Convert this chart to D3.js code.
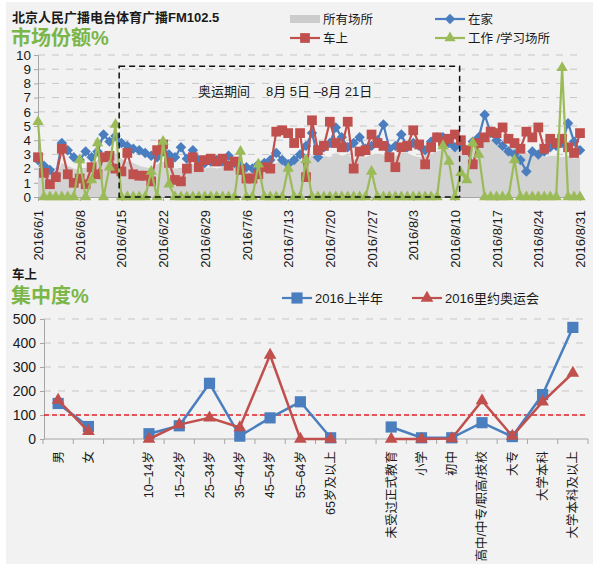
<!DOCTYPE html>
<html>
<head>
<meta charset="utf-8">
<script src="https://cdn.jsdelivr.net/npm/d3@7"></script>
<style>
body{margin:0;background:#fff;}
text{font-family:"Liberation Sans","Noto Sans CJK SC",sans-serif;fill:#1a1a1a;}
</style>
</head>
<body>
<svg id="chart" width="600" height="567"></svg>
<script>
// ---- market share, daily 2016/6/1 - 2016/8/31 ----
var startDay = "2016-06-01", endDay = "2016-08-31";
var allPlaces = [2.3,1.9,1.6,1.5,2.4,2.2,2.0,1.9,2.0,2.2,
  2.6,3.0,3.2,3.1,2.7,2.5,2.4,2.2,2.1,2.0,
  2.3,2.5,2.3,2.0,2.0,2.1,2.3,2.1,2.0,2.1,
  2.0,2.1,2.0,2.0,2.0,1.8,1.7,1.8,1.9,2.0,
  2.4,2.6,2.5,2.6,2.6,2.4,3.0,2.6,2.9,2.8,
  3.1,2.9,3.0,2.6,2.8,2.8,3.0,3.0,3.0,2.7,
  2.9,3.1,3.1,2.9,2.8,2.9,3.0,3.2,3.4,3.4,
  3.3,3.3,3.2,3.4,3.5,4.0,4.0,3.8,3.9,3.6,
  3.5,3.3,3.1,3.0,3.2,2.8,2.9,2.9,2.8,2.9,
  2.7,2.8];
var atHome = [2.6,2.2,1.9,1.5,3.8,3.3,2.8,2.6,3.2,2.8,
  3.2,4.4,3.9,4.3,3.8,3.6,3.4,3.3,3.1,2.9,
  2.8,3.2,3.0,2.8,3.5,2.7,3.3,2.6,2.4,2.5,
  2.6,2.5,2.9,2.4,2.2,2.1,2.0,2.3,2.4,2.6,
  3.1,2.6,2.3,2.6,3.0,3.6,4.5,2.8,3.5,3.8,
  4.9,4.2,3.5,3.8,4.2,3.4,3.6,4.0,5.1,3.4,
  3.6,4.4,3.5,3.8,3.6,3.3,3.9,4.2,4.2,3.8,
  3.5,3.6,3.3,3.9,4.2,5.8,4.5,4.0,3.6,3.2,
  3.0,2.6,1.8,3.2,3.0,3.2,3.5,3.6,3.8,5.2,
  3.9,3.3];
var inCar = [2.8,1.7,0.9,1.4,3.4,1.6,1.0,1.3,0.9,2.1,
  1.6,2.8,2.9,2.0,1.8,3.1,1.6,1.5,1.5,1.1,
  3.3,3.7,2.4,1.2,1.1,2.0,2.8,2.1,2.6,2.7,
  2.5,2.7,2.2,2.5,1.9,1.3,1.3,1.6,2.1,2.0,
  4.6,4.7,4.5,3.8,4.5,1.4,5.4,3.3,3.6,5.3,
  3.8,3.5,5.3,2.0,3.2,3.3,4.4,3.8,3.6,2.8,
  2.1,3.5,3.6,4.7,3.7,2.3,3.5,4.2,3.9,4.1,
  4.4,4.0,3.3,2.3,3.8,4.2,4.6,4.5,4.9,4.1,
  3.8,3.4,4.6,4.2,4.9,3.4,4.1,3.8,4.1,3.5,
  3.1,4.5];
var workStudy = [5.3,0,0,0,0,0,0,2.6,0,1.2,
  3.8,0,2.1,5.1,0,0,0,0,0,1.8,
  0,3.9,0.9,0,0,0,0,0,0,0,
  0,0,0,0,3.2,0,0,2.3,0,0,
  0,0,2.0,0,0,2.6,0,0,0,0,
  0,0,0,0,0,0,1.8,0,0,0,
  0,0,0,0,0,0,0,0,3.6,2.5,
  0,1.7,1.2,3.8,3.0,0,0,0,0,0,
  2.6,0,0,0,0,0,0,0,9.1,0,
  0,0];
var shareTicks = [0,1,2,3,4,5,6,7,8,9,10];
var boxFrom = "2016-06-14T15:00", boxTo = "2016-08-10T19:00", boxTop = 9.2;

// ---- concentration (in car) ----
var groups = ["男","女","","10–14岁","15–24岁","25–34岁","35–44岁","45–54岁","55–64岁","65岁及以上",
  "","未受过正式教育","小学","初中","高中/中专/职高/技校","大专","大学本科","大学本科及以上"];
var firstHalf = [148,52,null,22,55,232,12,88,155,5,null,50,5,5,68,10,185,465];
var rio2016 = [162,32,null,0,60,88,48,350,0,0,null,0,0,2,160,12,155,275];
var concTicks = [0,100,200,300,400,500];

var BLUE = "#4a7ebf", RED = "#c0504d", GREEN = "#9bbb59", GRID = "#c6c6c6";

var svg = d3.select("#chart");
svg.append("rect").attr("x",6).attr("y",2).attr("width",587).attr("height",562).attr("fill","#f2f2f2");

// ================= top chart =================
var parseDay = d3.timeParse("%Y-%m-%d"), parseTime = d3.timeParse("%Y-%m-%dT%H:%M");
var days = d3.timeDay.range(parseDay(startDay), d3.timeDay.offset(parseDay(endDay), 1));
var x1 = d3.scaleTime().domain([days[0], days[days.length-1]]).range([38, 580]);
var y1 = d3.scaleLinear().domain([0, 10]).range([197, 55]);

svg.append("text").attr("x",12).attr("y",22).style("font-size","13px").style("font-weight","bold")
  .text("北京人民广播电台体育广播FM102.5");
svg.append("text").attr("x",11).attr("y",45).style("font-size","20px").style("font-weight","bold")
  .style("fill","#7ab648").text("市场份额%");

svg.append("g").selectAll("line").data(shareTicks.slice(1)).enter().append("line")
  .attr("x1",38).attr("x2",584).attr("y1",d => y1(d)).attr("y2",d => y1(d))
  .attr("stroke",GRID).attr("stroke-dasharray","7,7");

var yAx1 = svg.append("g").attr("transform","translate(38,0)")
  .call(d3.axisLeft(y1).tickValues(shareTicks).tickSize(4).tickPadding(3));
yAx1.selectAll("text").style("font-size","13.5px");
yAx1.selectAll("line,path").attr("stroke","#a6a6a6");

var weekTicks = days.filter((d,i) => i % 7 === 0);
var xAx1 = svg.append("g").attr("transform","translate(0,197)")
  .call(d3.axisBottom(x1).tickValues(weekTicks).tickSize(4).tickFormat(d3.timeFormat("%Y/%-m/%-d")));
xAx1.selectAll("line,path").attr("stroke","#a6a6a6");
xAx1.selectAll("text").attr("transform","rotate(-90)").attr("text-anchor","end")
  .attr("x",-13).attr("y",0).attr("dy","0.35em").style("font-size","13px");

function daily(arr){ return arr.map((v,i) => ({d: days[i], v: v})); }

svg.append("path").datum(daily(allPlaces))
  .attr("fill","#d3d3d3")
  .attr("d", d3.area().x(p => x1(p.d)).y0(y1(0)).y1(p => y1(p.v)));

var diamond = d3.symbol().type(d3.symbolSquare).size(55)();
var square = d3.symbol().type(d3.symbolSquare).size(95)();
var triangle = d3.symbol().type(d3.symbolTriangle).size(55)();

function drawSeries(arr, color, shape, rot){
  var pts = daily(arr);
  svg.append("path").datum(pts).attr("fill","none").attr("stroke",color).attr("stroke-width",2.2)
    .attr("stroke-linejoin","round")
    .attr("d", d3.line().x(p => x1(p.d)).y(p => y1(p.v)));
  svg.append("g").selectAll("path").data(pts).enter().append("path")
    .attr("d", shape).attr("fill", color)
    .attr("transform", p => "translate(" + x1(p.d) + "," + y1(p.v) + ") rotate(" + rot + ")");
}
drawSeries(atHome, BLUE, diamond, 45);
drawSeries(inCar, RED, square, 0);
drawSeries(workStudy, GREEN, triangle, 0);

svg.append("rect")
  .attr("x", x1(parseTime(boxFrom))).attr("y", y1(boxTop))
  .attr("width", x1(parseTime(boxTo)) - x1(parseTime(boxFrom))).attr("height", y1(0) - y1(boxTop))
  .attr("fill","none").attr("stroke","#111").attr("stroke-width",1.5).attr("stroke-dasharray","6,4");
svg.append("text").attr("x",198).attr("y",96).style("font-size","13px").text("奥运期间");
svg.append("text").attr("x",266).attr("y",96).style("font-size","13px").text("8月 5日 –8月 21日");

// legend top
svg.append("rect").attr("x",290).attr("y",15).attr("width",30).attr("height",8).attr("fill","#cccccc");
svg.append("text").attr("x",323).attr("y",23.5).style("font-size","12.5px").text("所有场所");
function legendLine(x, y, color, shape, rot, label, size){
  svg.append("line").attr("x1",x).attr("x2",x+30).attr("y1",y).attr("y2",y)
    .attr("stroke",color).attr("stroke-width",2.2);
  svg.append("path").attr("d",shape).attr("fill",color)
    .attr("transform","translate(" + (x+15) + "," + y + ") rotate(" + rot + ")");
  svg.append("text").attr("x",x+33).attr("y",y+4.5).style("font-size",size).text(label);
}
legendLine(435, 19, BLUE, diamond, 45, "在家", "12.5px");
legendLine(290, 38, RED, square, 0, "车上", "12.5px");
legendLine(435, 38, GREEN, triangle, 0, "工作 /学习场所", "12.5px");

// ================= bottom chart =================
var x2 = d3.scaleBand().domain(d3.range(groups.length)).range([43, 588]);
var y2 = d3.scaleLinear().domain([0, 500]).range([439, 319]);

svg.append("text").attr("x",12).attr("y",279).style("font-size","12.5px").style("font-weight","bold").text("车上");
svg.append("text").attr("x",11).attr("y",303).style("font-size","20px").style("font-weight","bold")
  .style("fill","#7ab648").text("集中度%");

svg.append("g").selectAll("line").data(concTicks.slice(1)).enter().append("line")
  .attr("x1",44).attr("x2",588).attr("y1",d => y2(d)).attr("y2",d => y2(d))
  .attr("stroke",GRID).attr("stroke-dasharray","7,7");

var yAx2 = svg.append("g").attr("transform","translate(44,0)")
  .call(d3.axisLeft(y2).tickValues(concTicks).tickSize(4).tickPadding(4));
yAx2.selectAll("text").style("font-size","14px");
yAx2.selectAll("line,path").attr("stroke","#a6a6a6");

// x axis with ticks between categories
svg.append("line").attr("x1",44).attr("x2",588).attr("y1",y2(0)).attr("y2",y2(0)).attr("stroke","#a6a6a6");
svg.append("g").selectAll("line").data(d3.range(groups.length + 1)).enter().append("line")
  .attr("x1", i => 43 + i * x2.step()).attr("x2", i => 43 + i * x2.step())
  .attr("y1", y2(0)).attr("y2", y2(0) + 5).attr("stroke","#a6a6a6");
svg.append("g").selectAll("text").data(groups).enter().append("text")
  .attr("transform",(g,i) => "translate(" + (x2(i) + x2.bandwidth()/2) + "," + (y2(0) + 12) + ") rotate(-90)")
  .attr("text-anchor","end").attr("dy","0.35em").style("font-size","12.5px").text(g => g);

svg.append("line").attr("x1",44).attr("x2",588).attr("y1",y2(100)).attr("y2",y2(100))
  .attr("stroke","#e0262a").attr("stroke-width",1.4).attr("stroke-dasharray","5,3");

var bigSquare = d3.symbol().type(d3.symbolSquare).size(125)();
var bigTriangle = d3.symbol().type(d3.symbolTriangle).size(70)();

function drawGroups(arr, color, shape){
  var pts = arr.map((v,i) => ({i: i, v: v}));
  svg.append("path").datum(pts).attr("fill","none").attr("stroke",color).attr("stroke-width",2.5)
    .attr("d", d3.line().defined(p => p.v !== null)
      .x(p => x2(p.i) + x2.bandwidth()/2).y(p => y2(p.v)));
  svg.append("g").selectAll("path").data(pts.filter(p => p.v !== null)).enter().append("path")
    .attr("d", shape).attr("fill", color)
    .attr("transform", p => "translate(" + (x2(p.i) + x2.bandwidth()/2) + "," + y2(p.v) + ")");
}
drawGroups(firstHalf, BLUE, bigSquare);
drawGroups(rio2016, RED, bigTriangle);

legendLine(282, 298, BLUE, bigSquare, 0, "2016上半年", "13px");
legendLine(412, 298, RED, bigTriangle, 0, "2016里约奥运会", "13px");
</script>
</body>
</html>
